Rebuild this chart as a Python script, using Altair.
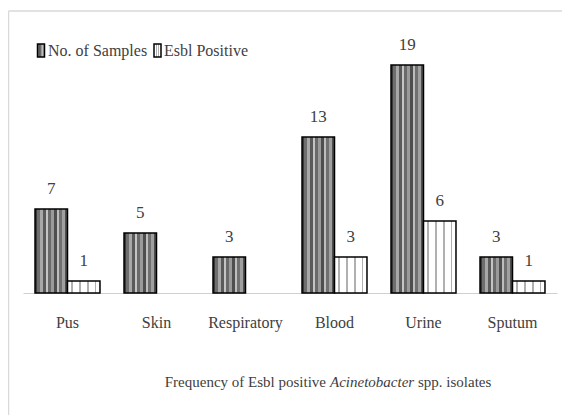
import altair as alt
import pandas as pd

categories = ["Pus", "Skin", "Respiratory", "Blood", "Urine", "Sputum"]
samples = [7, 5, 3, 13, 19, 3]
esbl = [1, 0, 0, 3, 6, 1]
series_names = ["No. of Samples", "Esbl Positive"]

rows = []
for c, s, e in zip(categories, samples, esbl):
    rows.append({"cat": c, "series": series_names[0], "value": s})
    rows.append({"cat": c, "series": series_names[1], "value": e})
df = pd.DataFrame(rows)
df = df[df["value"] > 0]

TEXT = "#404040"
FONT = "Liberation Serif"


def stripes(colors, widths):
    total = sum(widths)
    stops = []
    pos = 0.0
    for col, w in zip(colors, widths):
        stops.append(alt.GradientStop(offset=pos / total, color=col))
        pos += w
        stops.append(alt.GradientStop(offset=min(pos / total, 1.0), color=col))
    return alt.LinearGradient(gradient="linear", stops=stops, x1=0, x2=1, y1=0, y2=0)


dark_grad = stripes(
    ["#3a3a3a", "#6e6e6e", "#a8a8a8", "#5a5a5a", "#c4c4c4", "#6a6a6a",
     "#9a9a9a", "#4e4e4e", "#bdbdbd", "#707070", "#a0a0a0", "#505050"],
    [2, 3, 3, 3, 2, 3, 3, 3, 2, 3, 3, 2],
)
light_grad = stripes(
    ["#ffffff", "#b0b0b0", "#ffffff", "#b0b0b0", "#ffffff", "#b0b0b0", "#ffffff", "#b0b0b0", "#ffffff"],
    [3, 1.5, 5, 1.5, 5, 1.5, 5, 1.5, 3],
)

x_enc = alt.X(
    "cat:N",
    sort=categories,
    scale=alt.Scale(paddingInner=0.27, paddingOuter=0.135),
    axis=alt.Axis(
        title=None, labelAngle=0, ticks=False, tickSize=0, labelPadding=34,
        labelBaseline="alphabetic", labelFont=FONT, labelFontSize=16,
        labelColor=TEXT, domainColor="#d0d0d0", domainWidth=1.2,
    ),
)
xo_enc = alt.XOffset("series:N", sort=series_names,
                     scale=alt.Scale(domain=series_names, paddingInner=0, paddingOuter=0))
y_enc = alt.Y("value:Q", scale=alt.Scale(domain=[0, 22]), axis=None)

base = alt.Chart(df)

bars_s = base.transform_filter(alt.datum.series == series_names[0]).mark_bar(
    fill=dark_grad, stroke="#000000", strokeWidth=1.5
).encode(x=x_enc, xOffset=xo_enc, y=y_enc)

bars_e = base.transform_filter(alt.datum.series == series_names[1]).mark_bar(
    fill=light_grad, stroke="#000000", strokeWidth=1.5
).encode(x=x_enc, xOffset=xo_enc, y=y_enc)

labels = base.mark_text(
    font=FONT, fontSize=17, color=TEXT, baseline="alphabetic", dy=-15
).encode(x=x_enc, xOffset=xo_enc, y=y_enc, text="value:Q")

one = pd.DataFrame({"a": [0]})
leg_rect1 = alt.Chart(one).mark_rect(fill=dark_grad, stroke="#000000", strokeWidth=1.5).encode(
    x=alt.value(14.5), x2=alt.value(21.5), y=alt.value(15), y2=alt.value(28))
leg_rect2 = alt.Chart(one).mark_rect(fill=light_grad, stroke="#000000", strokeWidth=1.5).encode(
    x=alt.value(131), x2=alt.value(138), y=alt.value(15), y2=alt.value(28))
leg_t1 = alt.Chart(one).mark_text(font=FONT, fontSize=16, color=TEXT, align="left",
                                  baseline="middle", text=series_names[0]).encode(
    x=alt.value(25), y=alt.value(22))
leg_t2 = alt.Chart(one).mark_text(font=FONT, fontSize=16, color=TEXT, align="left",
                                  baseline="middle", text=series_names[1]).encode(
    x=alt.value(141), y=alt.value(22))

title_a = alt.Chart(one).mark_text(font=FONT, fontSize=15, color=TEXT, align="right",
                                   baseline="alphabetic", text="Frequency of Esbl positive").encode(
    x=alt.value(303), y=alt.value(358))
title_b = alt.Chart(one).mark_text(font=FONT, fontSize=15, color=TEXT, align="left", fontStyle="italic",
                                   baseline="alphabetic", text="Acinetobacter").encode(
    x=alt.value(307), y=alt.value(358))
title_c = alt.Chart(one).mark_text(font=FONT, fontSize=15, color=TEXT, align="left",
                                   baseline="alphabetic", text="spp. isolates").encode(
    x=alt.value(395), y=alt.value(358))

border_left = alt.Chart(one).mark_rule(color="#d9d9d9", strokeWidth=1.5).encode(
    x=alt.value(-14.5), y=alt.value(-18), y2=alt.value(400))
border_top = alt.Chart(one).mark_rule(color="#d9d9d9", strokeWidth=1.5).encode(
    x=alt.value(-14.5), x2=alt.value(560), y=alt.value(-18))

chart = alt.layer(
    bars_s, bars_e, labels,
    leg_rect1, leg_rect2, leg_t1, leg_t2,
    title_a, title_b, title_c,
    border_left, border_top,
).properties(
    width=534, height=264,
    autosize="none",
    background="white",
    padding={"left": 15, "top": 21, "right": 5, "bottom": 122},
).configure_view(stroke="transparent", strokeWidth=0)

chart.save("out.html", embed_options={"renderer": "svg", "actions": False})
